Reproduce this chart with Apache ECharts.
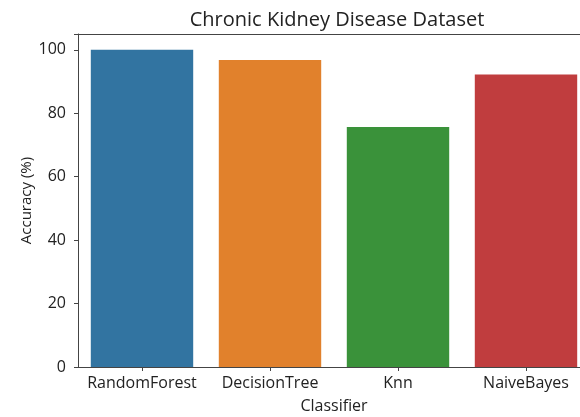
<!DOCTYPE html>
<html>
<head>
<meta charset="utf-8">
<script src="https://cdn.jsdelivr.net/npm/echarts@6/dist/echarts.min.js"></script>
<style>html,body{margin:0;padding:0;background:#fff;}#c{width:580px;height:417px;}</style>
</head>
<body>
<div id="c"></div>
<script>
const categories = ['RandomForest', 'DecisionTree', 'Knn', 'NaiveBayes'];
const accuracy = [100, 96.8, 75.7, 92.2];
const barColors = ['#3274a1', '#e1812c', '#3a923a', '#c03d3e'];
const yTicks = [0, 20, 40, 60, 80, 100];

const chart = echarts.init(document.getElementById('c'), null, {renderer: 'canvas'});
const font = 'Open Sans';
chart.setOption({
  animation: false,
  backgroundColor: '#fff',
  title: {
    text: 'Chronic Kidney Disease Dataset',
    left: 332, top: 5, textAlign: 'center',
    textStyle: {fontFamily: font, fontSize: 20, fontWeight: 'normal', color: '#222'}
  },
  grid: {left: 78, width: 512, top: 34, bottom: 50, show: false,
         containLabel: false, outerBoundsMode: 'none'},
  xAxis: [{
    type: 'category',
    data: categories,
    name: 'Classifier', nameLocation: 'middle', nameGap: 31, nameMoveOverlap: false,
    nameTextStyle: {fontFamily: font, fontSize: 16, color: '#222'},
    axisLine: {lineStyle: {color: '#444', width: 1}},
    axisTick: {show: true, alignWithLabel: true, length: 4, lineStyle: {color: '#444'}},
    axisLabel: {fontFamily: font, fontSize: 16, color: '#222', margin: 8, interval: 0, hideOverlap: false}
  }, {
    type: 'category',
    data: categories,
    position: 'top',
    axisLine: {show: true, lineStyle: {color: '#444', width: 1}},
    axisTick: {show: false},
    axisLabel: {show: false}
  }],
  yAxis: {
    type: 'value', min: 0, max: 105, interval: 20,
    name: 'Accuracy (%)', nameLocation: 'middle', nameGap: 44, nameMoveOverlap: false,
    nameTextStyle: {fontFamily: font, fontSize: 15, color: '#222'},
    axisLine: {show: true, lineStyle: {color: '#444', width: 1}},
    axisTick: {show: true, length: 4, lineStyle: {color: '#444'}},
    axisLabel: {fontFamily: font, fontSize: 16, color: '#222', margin: 12,
      formatter: v => yTicks.includes(v) ? String(v) : ''},
    splitLine: {show: false}
  },
  series: [{
    type: 'bar',
    xAxisIndex: 0,
    data: accuracy.map((v, i) => ({value: v, itemStyle: {color: barColors[i]}})),
    barWidth: '80%'
  }]
});
</script>
</body>
</html>
